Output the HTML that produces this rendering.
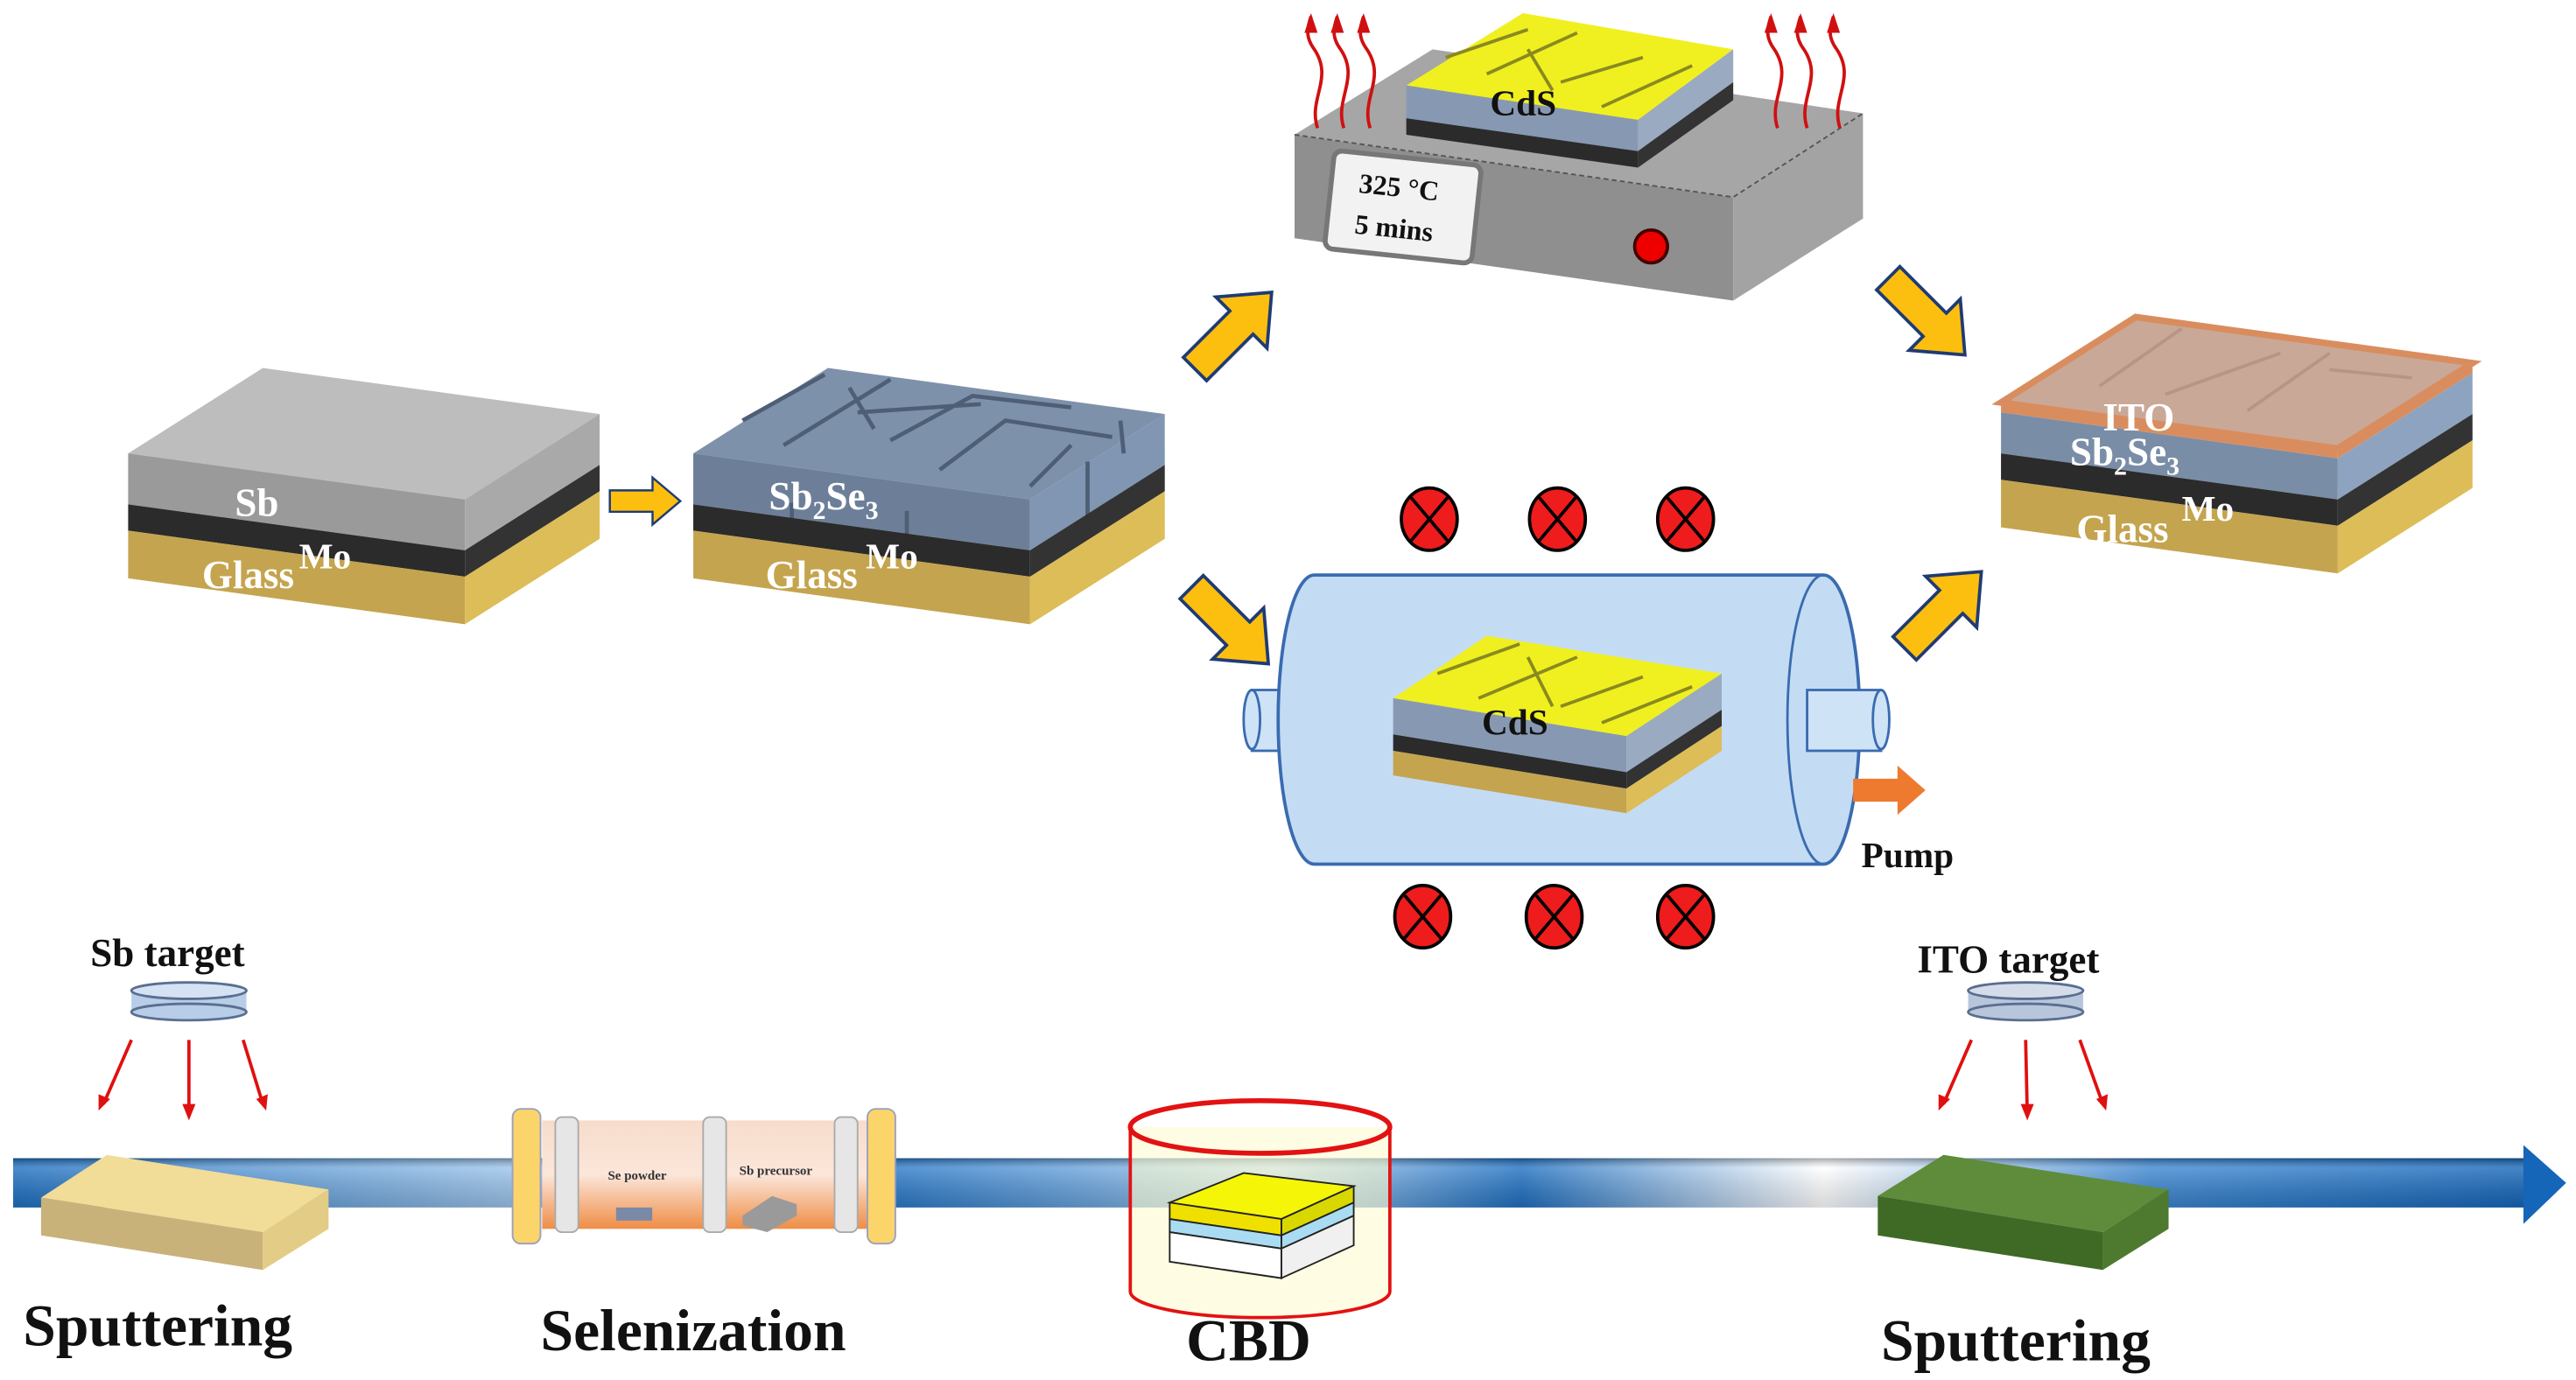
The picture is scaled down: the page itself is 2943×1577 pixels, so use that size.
<!DOCTYPE html>
<html><head><meta charset="utf-8"><style>
html,body{margin:0;padding:0;background:#fff}
svg{display:block}
text{font-family:"Liberation Serif",serif;font-weight:bold}
</style></head><body>
<svg width="2943" height="1577" viewBox="0 0 1568 840" preserveAspectRatio="none" xmlns="http://www.w3.org/2000/svg">
<defs>
<linearGradient id="bar" x1="0" y1="0" x2="1" y2="0">
<stop offset="0" stop-color="#1e6fc0"/><stop offset="0.2" stop-color="#9cc4ea"/><stop offset="0.35" stop-color="#2a78c8"/><stop offset="0.5" stop-color="#a8cdef"/><stop offset="0.6" stop-color="#1f6fc0"/><stop offset="0.72" stop-color="#ffffff"/><stop offset="0.85" stop-color="#3c86d0"/><stop offset="1" stop-color="#1565b8"/>
</linearGradient>
<linearGradient id="barv" x1="0" y1="0" x2="0" y2="1">
<stop offset="0" stop-color="#000" stop-opacity="0.35"/><stop offset="0.2" stop-color="#fff" stop-opacity="0.2"/><stop offset="1" stop-color="#000" stop-opacity="0.15"/>
</linearGradient>
<linearGradient id="tube" x1="0" y1="0" x2="0" y2="1">
<stop offset="0" stop-color="#f7dccb"/><stop offset="0.5" stop-color="#fbe6da"/><stop offset="1" stop-color="#ef8d45"/>
</linearGradient>
<g id="base">
<polygon points="0,31 205,59 205,75 0,47" fill="#2b2b2b"/>
<polygon points="205,59 287,7 287,23 205,75" fill="#333"/>
<polygon points="0,47 205,75 205,104 0,76" fill="#c4a44e"/>
<polygon points="205,75 287,23 287,52 205,104" fill="#dcbd57"/>
</g>
<path id="ya" d="M-32,-10 L8,-10 L8,-22 L34,0 L8,22 L8,10 L-32,10 Z" fill="#fdbf0f" stroke="#1f3b73" stroke-width="2"/>
<g id="xc"><ellipse cx="0" cy="0" rx="17" ry="19" fill="#ee1c1c" stroke="#000" stroke-width="2"/><path d="M-11,-13 L11,13 M11,-13 L-11,13" stroke="#000" stroke-width="2"/></g>
</defs>

<!-- Box 1 -->
<g transform="translate(78,276)">
<polygon points="0,0 82,-52 287,-24 205,28" fill="#bdbdbd"/>
<polygon points="0,0 205,28 205,59 0,31" fill="#9a9a9a"/>
<polygon points="205,28 287,-24 287,7 205,59" fill="#a9a9a9"/>
<use href="#base"/>
<text x="65" y="38" font-size="24" fill="#fff">Sb</text>
<text x="104" y="70" font-size="22" fill="#fff">Mo</text>
<text x="45" y="82" font-size="24" fill="#fff">Glass</text>
</g>

<use href="#ya" transform="translate(392,305) scale(0.65)"/>

<!-- Box 2 -->
<g transform="translate(422,276)">
<polygon points="0,0 82,-52 287,-24 205,28" fill="#7e91ab"/>
<polygon points="0,0 205,28 205,59 0,31" fill="#6d7f98"/>
<polygon points="205,28 287,-24 287,7 205,59" fill="#8096b2"/>
<path d="M30,-20 L80,-48 M55,-5 L120,-45 M100,-25 L175,-30 M120,-8 L170,-35 L230,-28 M150,10 L190,-20 L255,-10 M205,20 L230,-5 M260,-20 L262,0 M95,-40 L110,-15 M60,30 L60,55 M130,35 L130,62 M240,5 L240,40" stroke="#4e5e75" stroke-width="2.5" fill="none"/>
<use href="#base"/>
<text x="46" y="34" font-size="24" fill="#fff">Sb<tspan font-size="16" dy="6">2</tspan><tspan dy="-6">Se</tspan><tspan font-size="16" dy="6">3</tspan></text>
<text x="105" y="70" font-size="22" fill="#fff">Mo</text>
<text x="44" y="82" font-size="24" fill="#fff">Glass</text>
</g>

<!-- Hotplate -->
<polygon points="788,82 872,30 1134,69 1055,120" fill="#a6a6a6"/>
<polygon points="788,82 1055,120 1055,183 788,145" fill="#8f8f8f"/>
<polygon points="1055,120 1134,69 1134,133 1055,183" fill="#a3a3a3"/>
<path d="M788,82 L1055,120 L1134,69" stroke="#555" stroke-dasharray="3,2" fill="none"/>
<rect x="809" y="96" width="90" height="60" rx="5" fill="#f2f2f2" stroke="#777" stroke-width="3" transform="rotate(6 854 126)"/>
<text x="826" y="120" font-size="17" fill="#111" transform="rotate(6 854 126)">325 °C</text>
<text x="826" y="145" font-size="17" fill="#111" transform="rotate(6 854 126)">5 mins</text>
<circle cx="1005" cy="150" r="10" fill="#e00" stroke="#400" stroke-width="2"/>
<!-- CdS sample on hotplate -->
<polygon points="856,52 927,8 1055,30 997,73" fill="#f0f020"/>
<polygon points="856,52 997,73 997,92 856,72" fill="#8799b2"/>
<polygon points="856,72 997,92 997,102 856,82" fill="#2b2b2b"/>
<polygon points="997,73 1055,30 1055,50 997,92" fill="#9aaac0"/>
<polygon points="997,92 1055,50 1055,61 997,102" fill="#333"/>
<path d="M880,35 L930,18 M905,45 L960,20 M950,50 L1000,35 M975,65 L1030,40 M930,30 L945,55" stroke="#8a8a20" stroke-width="2" fill="none"/>
<text x="907" y="70" font-size="22" fill="#111">CdS</text>
<!-- heat waves -->
<g stroke="#d01010" stroke-width="2" fill="none">
<path d="M802,78 C796,60 812,48 800,30 C794,22 796,16 798,10"/>
<path d="M818,78 C812,60 828,48 816,30 C810,22 812,16 814,10"/>
<path d="M834,78 C828,60 844,48 832,30 C826,22 828,16 830,10"/>
<path d="M1082,78 C1076,60 1092,48 1080,30 C1074,22 1076,16 1078,10"/>
<path d="M1100,78 C1094,60 1110,48 1098,30 C1092,22 1094,16 1096,10"/>
<path d="M1120,78 C1114,60 1130,48 1118,30 C1112,22 1114,16 1116,10"/>
</g>
<g fill="#d01010">
<polygon points="798,8 794,20 802,20"/><polygon points="814,8 810,20 818,20"/><polygon points="830,8 826,20 834,20"/>
<polygon points="1078,8 1074,20 1082,20"/><polygon points="1096,8 1092,20 1100,20"/><polygon points="1116,8 1112,20 1120,20"/>
</g>

<!-- ITO box -->
<g transform="translate(1218,245)">
<polygon points="0,0 82,-52 287,-24 205,28" fill="#c9a898"/>
<polygon points="0,0 205,28 205,34 0,6" fill="#d98d5e"/>
<polygon points="205,28 287,-24 287,-18 205,34" fill="#d98d5e"/>
<polygon points="0,6 205,34 205,59 0,31" fill="#7a8da6"/>
<polygon points="205,34 287,-18 287,7 205,59" fill="#8ea3bf"/>
<path d="M0,0 L82,-52 L287,-24 L205,28 Z" stroke="#d98d5e" stroke-width="4" fill="none"/>
<path d="M60,-10 L110,-45 M100,-5 L170,-30 M150,5 L200,-30 M200,-20 L250,-15" stroke="#b89484" stroke-width="2" fill="none"/>
<use href="#base"/>
<text x="62" y="17" font-size="24" fill="#fff">ITO</text>
<text x="42" y="38" font-size="24" fill="#fff">Sb<tspan font-size="16" dy="6">2</tspan><tspan dy="-6">Se</tspan><tspan font-size="16" dy="6">3</tspan></text>
<text x="110" y="72" font-size="22" fill="#fff">Mo</text>
<text x="46" y="85" font-size="24" fill="#fff">Glass</text>
</g>

<!-- yellow arrows -->
<use href="#ya" transform="translate(750,202) rotate(-45)"/>
<use href="#ya" transform="translate(748,380) rotate(45)"/>
<use href="#ya" transform="translate(1172,192) rotate(45)"/>
<use href="#ya" transform="translate(1182,372) rotate(-45)"/>

<!-- red X circles -->
<use href="#xc" x="870" y="316"/><use href="#xc" x="948" y="316"/><use href="#xc" x="1026" y="316"/>
<use href="#xc" x="866" y="558"/><use href="#xc" x="946" y="558"/><use href="#xc" x="1026" y="558"/>

<!-- tube furnace -->
<rect x="762" y="420" width="50" height="37" fill="#cfe3f7" stroke="#3a6bb0" stroke-width="1.5"/>
<ellipse cx="762" cy="438" rx="5" ry="18" fill="#cfe3f7" stroke="#3a6bb0" stroke-width="1.5"/>
<path d="M800,350 L1110,350 A22,88 0 0 1 1110,526 L800,526 A22,88 0 0 1 800,350 Z" fill="#c3dcf4" stroke="#3a6bb0" stroke-width="2"/>
<path d="M1110,350 A22,88 0 0 0 1110,526" fill="none" stroke="#3a6bb0" stroke-width="1.5"/>
<rect x="1100" y="420" width="45" height="37" fill="#cfe3f7" stroke="#3a6bb0" stroke-width="1.5"/>
<ellipse cx="1145" cy="438" rx="5" ry="18" fill="#cfe3f7" stroke="#3a6bb0" stroke-width="1.5"/>
<polygon points="848,425 905,387 1048,410 990,448" fill="#f0f020"/>
<polygon points="848,425 990,448 990,470 848,447" fill="#8799b2"/>
<polygon points="848,447 990,470 990,480 848,457" fill="#2b2b2b"/>
<polygon points="848,457 990,480 990,495 848,472" fill="#c4a44e"/>
<polygon points="990,448 1048,410 1048,432 990,470" fill="#9aaac0"/>
<polygon points="990,470 1048,432 1048,442 990,480" fill="#333"/>
<polygon points="990,480 1048,442 1048,457 990,495" fill="#dcbd57"/>
<path d="M875,410 L925,392 M900,425 L960,400 M950,430 L1000,412 M975,440 L1030,418 M930,400 L945,430" stroke="#8a8a20" stroke-width="2" fill="none"/>
<text x="902" y="447" font-size="22" fill="#111">CdS</text>
<path d="M1128,474 L1155,474 L1155,466 L1172,481 L1155,496 L1155,488 L1128,488 Z" fill="#ee7a30"/>
<text x="1133" y="528" font-size="22" fill="#111">Pump</text>

<!-- timeline bar -->
<rect x="8" y="705" width="1530" height="30" fill="url(#bar)"/>
<rect x="8" y="705" width="1530" height="30" fill="url(#barv)"/>
<polygon points="1536,697 1562,720 1536,745" fill="#1565b8"/>

<!-- Sb target -->
<text x="55" y="588" font-size="24" fill="#111">Sb target</text>
<rect x="80" y="603" width="70" height="13" fill="#b8cde8"/>
<ellipse cx="115" cy="616" rx="35" ry="5" fill="#b8cde8" stroke="#5a6e90" stroke-width="1.5"/>
<ellipse cx="115" cy="603" rx="35" ry="5" fill="#d4e2f4" stroke="#5a6e90" stroke-width="1.5"/>
<g stroke="#e01010" stroke-width="2" fill="#e01010">
<line x1="80" y1="633" x2="63" y2="672"/><line x1="115" y1="633" x2="115" y2="678"/><line x1="148" y1="633" x2="160" y2="672"/>
</g>
<g fill="#e01010"><polygon points="60,676 60,666 67,669"/><polygon points="115,682 111,672 119,672"/><polygon points="162,676 156,669 163,666"/></g>
<!-- tan block -->
<polygon points="25,729 65,703 200,724 160,750" fill="#f1dc98"/>
<polygon points="25,729 160,750 160,773 25,752" fill="#c9b279"/>
<polygon points="160,750 200,724 200,748 160,773" fill="#e3cc85"/>

<!-- Selenization tube -->
<rect x="330" y="682" width="198" height="66" fill="url(#tube)"/>
<rect x="338" y="680" width="14" height="70" rx="4" fill="#e6e6e6" stroke="#aaa"/>
<rect x="428" y="680" width="14" height="70" rx="4" fill="#e6e6e6" stroke="#aaa"/>
<rect x="508" y="680" width="14" height="70" rx="4" fill="#e6e6e6" stroke="#aaa"/>
<rect x="312" y="675" width="17" height="82" rx="5" fill="#fbd46a" stroke="#9aa0c0"/>
<rect x="528" y="675" width="17" height="82" rx="5" fill="#fbd46a" stroke="#9aa0c0"/>
<text x="370" y="718" font-size="8" font-weight="normal" fill="#333">Se powder</text>
<text x="450" y="715" font-size="8" font-weight="normal" fill="#333">Sb precursor</text>
<rect x="375" y="735" width="22" height="8" fill="#7a8aa6"/>
<polygon points="452,740 470,728 485,733 485,740 467,750 452,746" fill="#9a9a9a"/>

<!-- CBD -->
<path d="M688,686 L688,786 A79,16 0 0 0 846,786 L846,686" fill="#fefcd0" fill-opacity="0.6" stroke="#e31212" stroke-width="2"/>
<ellipse cx="767" cy="686" rx="79" ry="16" fill="none" stroke="#e31212" stroke-width="3"/>
<polygon points="712,732 757,714 824,722 780,742" fill="#f5f508" stroke="#222"/>
<polygon points="712,732 780,742 780,752 712,742" fill="#f0e000" stroke="#222"/>
<polygon points="780,742 824,722 824,732 780,752" fill="#d8d800" stroke="#222"/>
<polygon points="712,742 780,752 780,760 712,750" fill="#a9dcf3" stroke="#222"/>
<polygon points="780,752 824,732 824,740 780,760" fill="#a9dcf3" stroke="#222"/>
<polygon points="712,750 780,760 780,778 712,768" fill="#fff" stroke="#222"/>
<polygon points="780,760 824,740 824,758 780,778" fill="#f0f0f0" stroke="#222"/>

<!-- ITO target -->
<text x="1167" y="592" font-size="24" fill="#111">ITO target</text>
<rect x="1198" y="603" width="70" height="13" fill="#b8c6dc"/>
<ellipse cx="1233" cy="616" rx="35" ry="5" fill="#b8c6dc" stroke="#5a6e90" stroke-width="1.5"/>
<ellipse cx="1233" cy="603" rx="35" ry="5" fill="#d4dcea" stroke="#5a6e90" stroke-width="1.5"/>
<g stroke="#e01010" stroke-width="2">
<line x1="1200" y1="633" x2="1183" y2="672"/><line x1="1233" y1="633" x2="1234" y2="678"/><line x1="1266" y1="633" x2="1280" y2="672"/>
</g>
<g fill="#e01010"><polygon points="1180,676 1180,666 1187,669"/><polygon points="1234,682 1230,672 1238,672"/><polygon points="1282,676 1276,669 1283,666"/></g>
<!-- green block -->
<polygon points="1143,728 1183,703 1320,724 1280,750" fill="#5f8c3a"/>
<polygon points="1143,728 1280,750 1280,773 1143,752" fill="#3f6a26"/>
<polygon points="1280,750 1320,724 1320,748 1280,773" fill="#4e7a30"/>

<!-- labels -->
<text x="14" y="819" font-size="36" fill="#111">Sputtering</text>
<text x="329" y="822" font-size="36" fill="#111">Selenization</text>
<text x="722" y="828" font-size="36" fill="#111">CBD</text>
<text x="1145" y="828" font-size="36" fill="#111">Sputtering</text>
</svg>
</body></html>
